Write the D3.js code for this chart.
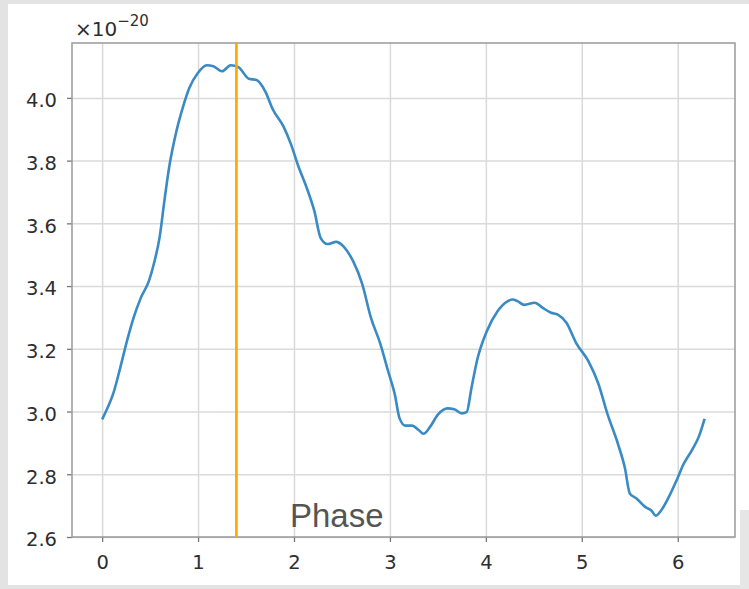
<!DOCTYPE html>
<html>
<head>
<meta charset="utf-8">
<script src="https://cdn.jsdelivr.net/npm/d3@7"></script>
<style>
  body { margin: 0; background: #e3e3e3; }
  svg { display: block; }
  .grid line { stroke: #dadada; stroke-width: 1.5; }
  .grid path { stroke: none; }
  .axis text { font-family: "DejaVu Sans", sans-serif; font-size: 19.5px; fill: #2e2e2e; }
  .axis line { stroke: #777; stroke-width: 1.3; }
  .axis path { stroke: none; }
</style>
</head>
<body>
<svg width="749" height="589"></svg>
<script>
// phase (rad) and value (in units of 1e-20)
const phase = [
  0, 0.05, 0.12, 0.19, 0.26, 0.33, 0.40, 0.49, 0.54, 0.60,
  0.65, 0.70, 0.77, 0.84, 0.91, 1.00, 1.09, 1.16, 1.25, 1.34,
  1.42, 1.53, 1.61, 1.70, 1.78, 1.89, 1.97, 2.04, 2.14, 2.21,
  2.28, 2.35, 2.44, 2.52, 2.62, 2.71, 2.80, 2.90, 2.98, 3.05,
  3.10, 3.16, 3.23, 3.30, 3.35, 3.42, 3.50, 3.60, 3.67, 3.75,
  3.80, 3.85, 3.91, 4.01, 4.12, 4.23, 4.28, 4.33, 4.40, 4.51,
  4.59, 4.68, 4.75, 4.84, 4.94, 5.07, 5.17, 5.27, 5.38, 5.45,
  5.50, 5.57, 5.66, 5.73, 5.77, 5.83, 5.90, 5.99, 6.06, 6.15,
  6.22, 6.28
]
const value = [
  2.975, 3.007, 3.061, 3.141, 3.226, 3.301, 3.360, 3.418, 3.472, 3.557,
  3.674, 3.781, 3.888, 3.968, 4.032, 4.080, 4.104, 4.101, 4.085, 4.104,
  4.098, 4.061, 4.057, 4.021, 3.963, 3.909, 3.851, 3.787, 3.707, 3.642,
  3.552, 3.534, 3.541, 3.525, 3.477, 3.408, 3.301, 3.216, 3.130, 3.056,
  2.979, 2.955, 2.955, 2.941, 2.929, 2.952, 2.990, 3.010, 3.007, 2.994,
  2.998, 3.075, 3.165, 3.256, 3.319, 3.352, 3.357, 3.352, 3.340, 3.347,
  3.331, 3.315, 3.309, 3.283, 3.219, 3.160, 3.091, 2.990, 2.894, 2.819,
  2.739, 2.723, 2.696, 2.683, 2.668, 2.686, 2.723, 2.782, 2.832, 2.878,
  2.920, 2.977
]
const markerPhase = 1.4
const xTicks = [0, 1, 2, 3, 4, 5, 6]
const yTicks = [2.6, 2.8, 3.0, 3.2, 3.4, 3.6, 3.8, 4.0]

const dados = phase.map((p, i) => ({ p: p, v: value[i] }))

const svg = d3.select('svg')

// white figure area over the grey background
svg.append('rect')
  .attr('x', 8).attr('y', 4)
  .attr('width', 741).attr('height', 581)
  .attr('fill', '#fff')
svg.append('rect')
  .attr('x', 740).attr('y', 510)
  .attr('width', 9).attr('height', 79)
  .attr('fill', '#e6e6e6')

const margin = { top: 43, left: 72 }
const width = 663
const height = 494

const chart = svg.append('g')
  .attr('transform', `translate(${margin.left}, ${margin.top})`)

const xScale = d3.scaleLinear()
  .domain([-0.314, 6.597])
  .range([0, width])

const yScale = d3.scaleLinear()
  .domain([2.6, 4.175])
  .range([height, 0])

// grid
chart.append('g')
  .attr('class', 'grid')
  .attr('transform', `translate(0, ${height})`)
  .call(d3.axisBottom(xScale).tickValues(xTicks).tickSize(-height).tickFormat(''))

chart.append('g')
  .attr('class', 'grid')
  .call(d3.axisLeft(yScale).tickValues(yTicks).tickSize(-width).tickFormat(''))

// axes
chart.append('g')
  .attr('class', 'axis')
  .attr('transform', `translate(0, ${height})`)
  .call(d3.axisBottom(xScale).tickValues(xTicks).tickSize(5).tickPadding(13).tickFormat(d3.format('d')))

chart.append('g')
  .attr('class', 'axis')
  .call(d3.axisLeft(yScale).tickValues(yTicks).tickSize(5).tickPadding(10).tickFormat(d3.format('.1f')))
  .selectAll('text')
  .attr('dy', '0.45em')

// frame
chart.append('rect')
  .attr('width', width).attr('height', height)
  .attr('fill', 'none')
  .attr('stroke', '#999')
  .attr('stroke-width', 1.5)

const line = d3.line()
  .x((d) => xScale(d.p))
  .y((d) => yScale(d.v))
  .curve(d3.curveMonotoneX)

chart.append('path')
  .datum(dados)
  .attr('d', line)
  .attr('fill', 'none')
  .attr('stroke', '#3a8ac4')
  .attr('stroke-width', 2.6)
  .attr('stroke-linejoin', 'round')

chart.append('line')
  .attr('x1', xScale(markerPhase)).attr('x2', xScale(markerPhase))
  .attr('y1', 0).attr('y2', height)
  .attr('stroke', '#ffa500')
  .attr('stroke-width', 2.6)

// multiplier
const mult = svg.append('text')
  .attr('x', 75).attr('y', 36)
  .style('font-family', 'DejaVu Sans, sans-serif')
  .style('font-size', '20px')
  .style('fill', '#2e2e2e')
mult.append('tspan').text('×10')
mult.append('tspan')
  .attr('dy', -10)
  .style('font-size', '15px')
  .text('−20')

// label inside the axes
svg.append('text')
  .attr('x', 290).attr('y', 527)
  .style('font-family', 'Liberation Sans, Arial, sans-serif')
  .style('font-size', '33px')
  .style('fill', '#555')
  .text('Phase')
</script>
</body>
</html>
